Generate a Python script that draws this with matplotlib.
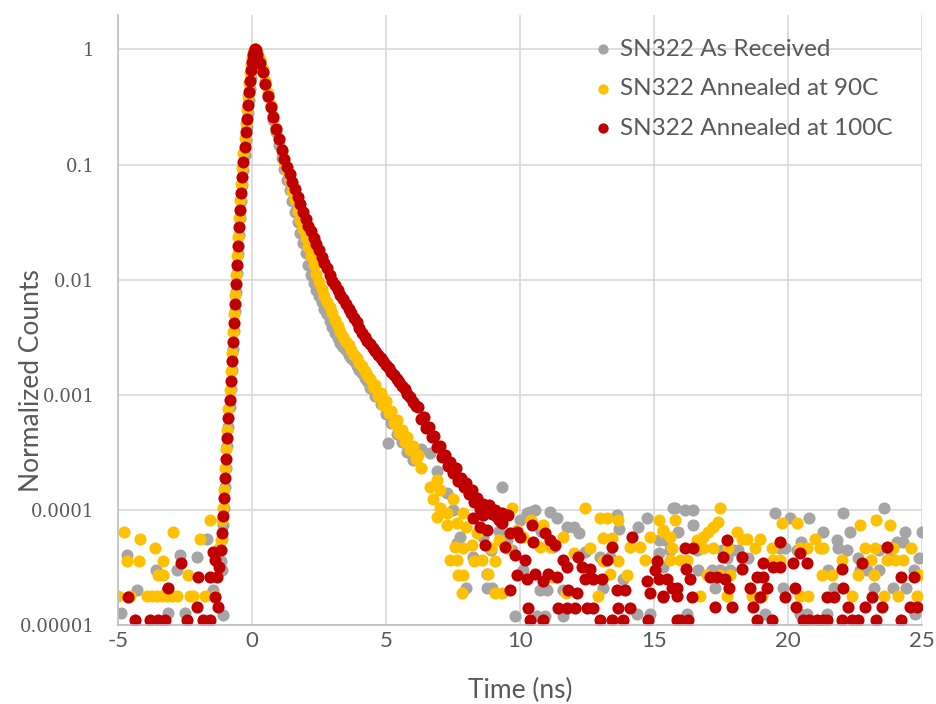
import matplotlib

matplotlib.use("Agg")
import matplotlib.pyplot as plt
from matplotlib.ticker import FixedLocator, NullLocator

# ---- data: normalized TCSPC decays, time in ns ----
labels = ["SN322 As Received", "SN322 Annealed at 90C", "SN322 Annealed at 100C"]
colors = ["#A5A5A5", "#FFC000", "#C00000"]

# background counts before the pulse
gray_pre_t = [-4.9, -4.66, -4.3, -3.6, -3.17, -3.13, -2.8, -2.69, -2.5, -2.05, -1.68, -1.45, -1.12, -1.08]
gray_pre_v = [1.27e-5, 4.1e-5, 2.0e-5, 3.0e-5, 2.0e-5, 1.27e-5, 3.0e-5, 4.1e-5, 1.27e-5, 3.9e-5, 5.6e-5,
              2.0e-5, 3.0e-5, 1.22e-5]
yel_pre_t = [-5.0, -4.78, -4.66, -4.55, -4.22, -4.18, -3.92, -3.73, -3.62, -3.54, -3.5, -3.36, -3.32, -3.32,
             -3.17, -2.99, -2.95, -2.8, -2.39, -2.31, -2.2, -1.94, -1.75, -1.57, -1.38, -1.25]
yel_pre_v = [1.8e-5, 6.4e-5, 3.6e-5, 1.8e-5, 3.6e-5, 5.6e-5, 1.8e-5, 1.8e-5, 4.7e-5, 1.8e-5, 2.7e-5, 1.8e-5,
             3.6e-5, 2.7e-5, 1.8e-5, 1.8e-5, 6.4e-5, 1.8e-5, 2.7e-5, 1.8e-5, 1.8e-5, 5.6e-5, 1.8e-5, 8.2e-5,
             1.8e-5, 4.7e-5]
red_pre_t = [-4.63, -4.37, -3.81, -3.51, -3.25, -3.13, -2.65, -2.43, -2.05, -2.01, -1.83, -1.57, -1.57,
             -1.46, -1.38, -1.38, -1.31, -1.27, -1.22]
red_pre_v = [1.75e-5, 1.1e-5, 1.1e-5, 1.1e-5, 1.1e-5, 2.1e-5, 3.5e-5, 1.1e-5, 1.45e-5, 2.6e-5, 1.1e-5, 1.1e-5,
             2.6e-5, 4.3e-5, 3.7e-5, 1.75e-5, 2.6e-5, 1.45e-5, 3.2e-5]

# rising edge, 0.04 ns bins
t_rise = [-1.16, -1.12, -1.08, -1.04, -1.0, -0.96, -0.92, -0.88, -0.84, -0.8, -0.76, -0.72, -0.68, -0.64,
          -0.6, -0.56, -0.52, -0.48, -0.44, -0.4, -0.36, -0.32, -0.28, -0.24, -0.2, -0.16, -0.12, -0.08,
          -0.04, 0.0, 0.04, 0.08, 0.12, 0.16]
gray_rise = [3.6e-5, 5.6e-5, 7.4e-5, 1.05e-4, 1.6e-4, 2.3e-4, 3.6e-4, 5.3e-4, 7.8e-4, 1.12e-3, 1.66e-3,
             2.5e-3, 3.6e-3, 5.3e-3, 7.8e-3, 0.0115, 0.0166, 0.0245, 0.0346, 0.0478, 0.066, 0.0893, 0.12,
             0.162, 0.213, 0.281, 0.363, 0.456, 0.562, 0.66, 0.76, 0.86, 1.0, 0.97]
yel_rise = [5.5e-5, 8.2e-5, 1.04e-4, 1.5e-4, 2.3e-4, 3.4e-4, 5.0e-4, 7.6e-4, 1.1e-3, 1.6e-3, 2.3e-3, 3.5e-3,
            5.0e-3, 7.4e-3, 0.0109, 0.0162, 0.0234, 0.0345, 0.0488, 0.0674, 0.0931, 0.126, 0.169, 0.229,
            0.301, 0.397, 0.512, 0.62, 0.74, 0.85, 0.94, 0.98, 1.0, 0.985]
red_rise = [4.5e-5, 6.3e-5, 8.9e-5, 1.26e-4, 1.9e-4, 2.8e-4, 4.2e-4, 6.3e-4, 9.1e-4, 1.32e-3, 1.95e-3, 2.9e-3,
            4.2e-3, 6.2e-3, 9.1e-3, 0.0135, 0.0195, 0.0288, 0.0407, 0.0562, 0.0776, 0.105, 0.141, 0.191,
            0.251, 0.331, 0.427, 0.537, 0.661, 0.776, 0.891, 0.955, 1.0, 0.99]

# decay, 0.1 ns spacing (shorter series use the first part of the time list)
t_decay = [0.2, 0.3, 0.4, 0.5, 0.6, 0.7, 0.8, 0.9, 1.0, 1.1, 1.2, 1.3, 1.4, 1.5, 1.6, 1.7, 1.8, 1.9, 2.0,
           2.1, 2.2, 2.3, 2.4, 2.5, 2.6, 2.7, 2.8, 2.9, 3.0, 3.1, 3.2, 3.3, 3.4, 3.5, 3.6, 3.7, 3.8, 3.9,
           4.0, 4.1, 4.2, 4.3, 4.4, 4.5, 4.6, 4.7, 4.8, 4.9, 5.0, 5.1, 5.2, 5.3, 5.4, 5.5, 5.6, 5.7, 5.8,
           5.9, 6.0, 6.1, 6.2, 6.3, 6.4, 6.5, 6.6, 6.7, 6.8, 6.9, 7.0, 7.1, 7.2, 7.3, 7.4, 7.5, 7.6, 7.7,
           7.8, 7.9, 8.0, 8.1, 8.2, 8.3, 8.4, 8.5, 8.6, 8.7]
gray_decay = [0.933, 0.794, 0.631, 0.501, 0.389, 0.316, 0.245, 0.191, 0.148, 0.115,
              0.0912, 0.0741, 0.0603, 0.0479, 0.0389, 0.0316, 0.0257, 0.0209, 0.017, 0.0135,
              0.011, 0.00933, 0.00813, 0.00724, 0.00646, 0.00562, 0.00501, 0.00437, 0.00389, 0.00347,
              0.00309, 0.00282, 0.00263, 0.00245, 0.00224, 0.00209, 0.00195, 0.00178, 0.00166, 0.00155,
              0.00141, 0.00132, 0.00115, 0.0012, 0.00097, 0.00101, 0.00083, 0.00087, 0.00068, 0.00072,
              0.00057, 0.0006, 0.00046, 0.0005, 0.00039, 0.00042, 0.00032, 0.00035, 0.00027]
yel_decay = [0.955, 0.832, 0.676, 0.537, 0.417, 0.331, 0.263, 0.209, 0.166, 0.132,
             0.105, 0.0871, 0.0724, 0.0589, 0.049, 0.0398, 0.0331, 0.0275, 0.0229, 0.0191,
             0.0162, 0.0135, 0.0112, 0.00955, 0.00832, 0.00724, 0.00646, 0.00575, 0.00513, 0.00447,
             0.00398, 0.00355, 0.00316, 0.00288, 0.00269, 0.00245, 0.00224, 0.00209, 0.00191, 0.00178,
             0.00162, 0.00148, 0.00138, 0.00118, 0.00122, 0.00098, 0.00104, 0.00082, 0.00088, 0.00069,
             0.00072, 0.00057, 0.0006, 0.00047, 0.0005, 0.00039, 0.00043, 0.00033, 0.00036, 0.00028,
             0.0003, 0.00023]
red_decay = [0.891, 0.759, 0.631, 0.501, 0.398, 0.316, 0.257, 0.204, 0.166, 0.135,
             0.112, 0.0955, 0.0832, 0.0708, 0.0617, 0.0525, 0.0457, 0.0389, 0.0339, 0.0295,
             0.0263, 0.0229, 0.0204, 0.0182, 0.0158, 0.0141, 0.0126, 0.011, 0.00977, 0.00891,
             0.00813, 0.00741, 0.00676, 0.00617, 0.00562, 0.00513, 0.00468, 0.00427, 0.0038, 0.00347,
             0.00316, 0.00295, 0.00275, 0.00257, 0.0024, 0.00224, 0.00209, 0.00195, 0.00182, 0.0017,
             0.00158, 0.00148, 0.00138, 0.00129, 0.0012, 0.00112, 0.00102, 0.000955, 0.000871, 0.000794,
             0.00078, 0.00062, 0.00064, 0.00052, 0.00053, 0.00043, 0.00044, 0.00035, 0.00036, 0.00029,
             0.0003, 0.00024, 0.00026, 0.00021, 0.00023, 0.00018, 0.00019, 0.00016, 0.000172, 0.000138,
             0.000148, 0.000118, 0.000126, 0.000102, 0.000112, 0.000098]

# tail and background after the pulse
gray_tail_t = [5.07, 6.3, 6.64, 6.9, 7.28, 7.5, 7.65, 7.76, 8.0, 8.25, 8.6, 8.77, 8.77, 8.9, 8.96, 9.2, 9.33,
               9.5, 9.7, 9.81, 10.0, 10.1, 10.26, 10.37, 10.56, 10.63, 10.75, 10.8, 10.93, 11.0, 11.1,
               11.23, 11.38, 11.6, 11.6, 11.75, 12.0, 12.2, 12.43, 13.0, 13.1, 13.36, 13.6, 13.7, 13.84,
               14.37, 14.4, 14.74, 14.85, 15.2, 15.2, 15.35, 15.4, 15.6, 15.6, 15.7, 15.78, 15.9, 16.16,
               16.23, 16.46, 16.46, 16.6, 16.64, 17.16, 17.28, 17.46, 17.54, 17.72, 17.84, 17.95, 18.13,
               18.3, 18.5, 19.14, 19.5, 19.7, 19.8, 19.9, 20.07, 20.34, 20.45, 20.5, 20.7, 20.8, 21.3,
               21.46, 21.5, 21.7, 21.83, 21.87, 22.05, 22.2, 22.3, 22.6, 22.7, 22.95, 23.2, 23.4, 23.4,
               23.6, 23.8, 23.9, 24.07, 24.3, 24.36, 24.4, 24.7, 24.74, 24.9, 25.0]
gray_tail_v = [3.8e-4, 3.4e-4, 3.1e-4, 2.2e-4, 1.4e-4, 1.0e-4, 5.2e-5, 5.8e-5, 2.1e-5, 3.9e-5, 5.8e-5,
               2.8e-5, 2.1e-5, 4.5e-5, 2.1e-5, 6.6e-5, 1.6e-4, 5.5e-5, 4.5e-5, 1.2e-5, 8.2e-5, 3.0e-5,
               9.5e-5, 9.6e-5, 1.0e-4, 1.2e-5, 2.0e-5, 6.6e-5, 1.2e-5, 2.0e-5, 9.6e-5, 4.8e-5, 8.5e-5,
               2.0e-5, 1.2e-5, 7.1e-5, 7.1e-5, 6.3e-5, 4.3e-5, 3.9e-5, 2.1e-5, 3.9e-5, 9.0e-5, 6.9e-5,
               2.5e-5, 1.25e-5, 7.1e-5, 8.5e-5, 1.25e-5, 4.2e-5, 5.5e-5, 3.2e-5, 5.5e-5, 4.5e-5, 4.5e-5,
               1.05e-4, 1.05e-4, 6.4e-5, 1.0e-4, 1.25e-5, 1.0e-4, 7.4e-5, 4.5e-5, 3.0e-5, 3.0e-5, 2.1e-5,
               3.0e-5, 4.5e-5, 3.8e-5, 3.0e-5, 4.5e-5, 4.5e-5, 3.8e-5, 3.8e-5, 1.25e-5, 9.5e-5, 4.7e-5,
               2.1e-5, 4.7e-5, 8.5e-5, 4.5e-5, 1.25e-5, 5.3e-5, 1.25e-5, 8.5e-5, 6.4e-5, 1.25e-5, 3.0e-5,
               2.1e-5, 5.5e-5, 4.7e-5, 9.5e-5, 4.5e-5, 6.4e-5, 3.8e-5, 3.0e-5, 3.0e-5, 2.1e-5, 3.0e-5,
               4.5e-5, 1.05e-4, 4.5e-5, 2.1e-5, 5.3e-5, 5.3e-5, 6.4e-5, 2.1e-5, 3.0e-5, 1.25e-5, 3.8e-5,
               6.4e-5]
yel_tail_t = [6.64, 6.75, 6.9, 6.9, 7.0, 7.0, 7.28, 7.28, 7.39, 7.5, 7.57, 7.65, 7.65, 7.7, 7.84, 7.87,
              7.87, 7.87, 8.0, 8.2, 8.3, 8.4, 8.58, 8.8, 8.9, 9.07, 9.07, 9.2, 9.33, 9.5, 9.7, 9.89, 10.1,
              10.4, 10.75, 10.86, 11.1, 11.23, 11.6, 11.7, 12.0, 12.43, 12.6, 12.9, 13.0, 13.1, 13.1,
              13.25, 13.36, 13.43, 13.66, 13.66, 14.0, 14.1, 14.48, 14.66, 14.85, 15.2, 15.35, 15.35,
              15.6, 15.6, 15.67, 15.8, 15.97, 16.23, 16.6, 16.7, 16.83, 16.83, 16.98, 17.0, 17.2, 17.2,
              17.39, 17.46, 17.46, 17.72, 17.76, 17.84, 18.1, 18.3, 18.47, 18.66, 18.77, 18.96, 19.03,
              19.4, 19.44, 19.7, 19.78, 20.34, 20.45, 20.45, 20.7, 20.75, 21.0, 21.2, 21.27, 21.3, 21.64,
              22.0, 22.4, 22.6, 22.7, 22.87, 23.1, 23.2, 23.25, 23.3, 23.6, 23.7, 23.8, 23.9, 24.0, 24.1,
              24.3, 24.6, 24.8, 24.9]
yel_tail_v = [1.6e-4, 1.24e-4, 1.82e-4, 8.7e-5, 1.5e-4, 1.05e-4, 9.5e-5, 7.4e-5, 3.7e-5, 1.24e-4, 4.8e-5,
              7.7e-5, 3.7e-5, 2.7e-5, 1.9e-5, 9.5e-5, 4.7e-5, 2.7e-5, 7.1e-5, 5.0e-5, 3.6e-5, 6.3e-5,
              3.7e-5, 2.8e-5, 4.7e-5, 3.6e-5, 1.9e-5, 5.5e-5, 1.9e-5, 4.7e-5, 1.05e-4, 6.7e-5, 5.8e-5,
              8.2e-5, 4.8e-5, 7.4e-5, 4.8e-5, 2.6e-5, 5.8e-5, 1.9e-5, 4.2e-5, 1.04e-4, 4.7e-5, 1.8e-5,
              8.5e-5, 5.7e-5, 3.6e-5, 8.5e-5, 2.8e-5, 5.7e-5, 8.2e-5, 3.6e-5, 2.7e-5, 4.8e-5, 4.8e-5,
              3.7e-5, 5.8e-5, 8.2e-5, 6.4e-5, 6.7e-5, 5.8e-5, 3.7e-5, 4.7e-5, 8.2e-5, 3.7e-5, 3.7e-5,
              5.5e-5, 1.8e-5, 5.8e-5, 4.7e-5, 2.7e-5, 6.4e-5, 7.1e-5, 4.7e-5, 7.9e-5, 1.04e-4, 2.7e-5,
              1.8e-5, 4.7e-5, 2.7e-5, 6.4e-5, 5.6e-5, 5.6e-5, 1.8e-5, 4.7e-5, 5.6e-5, 1.8e-5, 4.7e-5,
              3.7e-5, 3.7e-5, 7.7e-5, 7.7e-5, 4.7e-5, 1.8e-5, 4.7e-5, 1.8e-5, 5.6e-5, 4.7e-5, 2.7e-5,
              4.7e-5, 2.7e-5, 3.7e-5, 1.8e-5, 2.7e-5, 7.4e-5, 4.7e-5, 3.7e-5, 2.7e-5, 4.7e-5, 8.2e-5,
              1.8e-5, 3.7e-5, 7.4e-5, 4.7e-5, 3.7e-5, 1.8e-5, 3.7e-5, 4.7e-5, 1.8e-5, 2.7e-5]
red_tail_t = [8.25, 8.5, 8.6, 8.69, 8.77, 8.85, 8.95, 9.05, 9.14, 9.2, 9.33, 9.33, 9.44, 9.55, 9.63, 9.63,
              9.81, 9.89, 9.89, 10.0, 10.19, 10.26, 10.3, 10.37, 10.45, 10.49, 10.56, 10.86, 10.86,
              10.93, 11.04, 11.1, 11.3, 11.38, 11.42, 11.6, 11.75, 11.75, 11.8, 12.05, 12.13, 12.16,
              12.3, 12.43, 12.5, 12.6, 12.72, 12.72, 12.99, 13.06, 13.25, 13.43, 13.43, 13.62, 13.66,
              13.84, 13.92, 14.1, 14.18, 14.74, 14.78, 14.85, 15.04, 15.1, 15.2, 15.34, 15.35, 15.5,
              15.67, 15.85, 15.86, 15.86, 15.97, 16.16, 16.2, 16.27, 16.34, 16.42, 16.46, 17.1, 17.28,
              17.35, 17.57, 17.65, 17.72, 17.8, 17.9, 18.28, 18.28, 18.58, 18.7, 18.84, 18.84, 18.96,
              19.07, 19.07, 19.2, 19.4, 19.44, 19.7, 19.7, 19.9, 20.2, 20.26, 20.3, 20.45, 20.56, 20.7,
              20.8, 21.08, 21.3, 21.46, 21.46, 21.7, 22.0, 22.0, 22.05, 22.24, 22.4, 22.6, 22.76, 22.87,
              23.13, 23.3, 23.5, 23.7, 24.2, 24.2, 24.55, 24.7, 24.8]
red_tail_v = [8.5e-5, 7.1e-5, 9.0e-5, 5.0e-5, 6.7e-5, 1.1e-4, 9.2e-5, 1.0e-4, 8.7e-5, 8.2e-5, 9.5e-5,
              7.7e-5, 4.8e-5, 9.0e-5, 6.3e-5, 2.0e-5, 4.1e-5, 6.4e-5, 2.7e-5, 5.8e-5, 3.7e-5, 2.5e-5,
              1.4e-5, 1.1e-5, 7.4e-5, 5.3e-5, 2.8e-5, 2.4e-5, 1.1e-5, 6.3e-5, 2.8e-5, 5.5e-5, 5.0e-5,
              2.6e-5, 1.4e-5, 3.7e-5, 3.2e-5, 1.4e-5, 2.0e-5, 1.4e-5, 1.9e-5, 3.9e-5, 3.2e-5, 2.5e-5,
              1.4e-5, 3.1e-5, 1.4e-5, 2.5e-5, 1.1e-5, 2.5e-5, 3.7e-5, 4.8e-5, 1.1e-5, 2.0e-5, 1.4e-5,
              1.1e-5, 2.0e-5, 1.4e-5, 5.8e-5, 2.4e-5, 1.1e-5, 1.9e-5, 3.0e-5, 3.6e-5, 2.5e-5, 1.75e-5,
              1.8e-5, 2.5e-5, 2.1e-5, 1.8e-5, 2.1e-5, 1.1e-5, 1.1e-5, 4.7e-5, 3.1e-5, 1.1e-5, 2.5e-5,
              1.75e-5, 4.7e-5, 2.6e-5, 1.45e-5, 2.6e-5, 3.9e-5, 2.5e-5, 5.5e-5, 2.1e-5, 1.45e-5, 3.9e-5,
              3.1e-5, 2.1e-5, 1.45e-5, 2.6e-5, 1.1e-5, 1.75e-5, 2.6e-5, 3.5e-5, 2.1e-5, 1.1e-5, 3.2e-5,
              3.2e-5, 5.3e-5, 1.75e-5, 3.5e-5, 2.1e-5, 1.45e-5, 4.2e-5, 1.1e-5, 3.5e-5, 1.1e-5, 1.1e-5,
              1.1e-5, 1.1e-5, 1.75e-5, 1.75e-5, 3.1e-5, 1.1e-5, 2.1e-5, 1.45e-5, 1.1e-5, 1.1e-5, 3.5e-5,
              1.45e-5, 1.75e-5, 1.1e-5, 1.45e-5, 4.8e-5, 1.1e-5, 2.6e-5, 1.45e-5, 2.6e-5, 1.45e-5]

series = [
    (gray_pre_t + t_rise + t_decay[:len(gray_decay)] + gray_tail_t,
     gray_pre_v + gray_rise + gray_decay + gray_tail_v),
    (yel_pre_t + t_rise + t_decay[:len(yel_decay)] + yel_tail_t,
     yel_pre_v + yel_rise + yel_decay + yel_tail_v),
    (red_pre_t + t_rise + t_decay[:len(red_decay)] + red_tail_t,
     red_pre_v + red_rise + red_decay + red_tail_v),
]

sans = ["Lato", "DejaVu Sans"]
text_col = "#595959"
grid_col = "#D9D9D9"

fig = plt.figure(figsize=(9.37, 7.04), dpi=100)
ax = fig.add_axes([0.126, 0.112, 0.858, 0.867])

for (t, v), lab, c in zip(series, labels, colors):
    ax.scatter(t, v, s=76, color=c, linewidths=0, label=lab)

ax.set_yscale("log")
ax.set_xlim(-5, 25)
ax.set_ylim(1e-5, 2.0)
ax.xaxis.set_major_locator(FixedLocator([-5, 0, 5, 10, 15, 20, 25]))
ax.yaxis.set_major_locator(FixedLocator([1e-5, 1e-4, 1e-3, 1e-2, 1e-1, 1]))
ax.yaxis.set_minor_locator(NullLocator())
ax.set_yticklabels(["0.00001", "0.0001", "0.001", "0.01", "0.1", "1"],
                   family="DejaVu Serif", fontsize=13, color=text_col)
ax.set_xticklabels(["-5", "0", "5", "10", "15", "20", "25"], family=sans, fontsize=16, color=text_col)
ax.tick_params(axis="both", length=0)
ax.tick_params(axis="y", pad=17)
ax.tick_params(axis="x", pad=4)

ax.grid(True, color=grid_col, linewidth=1.2)
ax.set_axisbelow(True)
for side in ["top", "right"]:
    ax.spines[side].set_visible(False)
for side in ["left", "bottom"]:
    ax.spines[side].set_color("#BFBFBF")
    ax.spines[side].set_linewidth(1.2)

ax.set_xlabel("Time (ns)", family=sans, fontsize=19, color=text_col)
ax.xaxis.set_label_coords(0.5, -0.086)
ax.xaxis.label.set_va("top")
ax.set_ylabel("Normalized Counts", family=sans, fontsize=19, color=text_col)
ax.yaxis.set_label_coords(-0.092, 0.40)

leg = ax.legend(loc="upper left", bbox_to_anchor=(0.58, 0.977), frameon=False, markerscale=0.85,
                handlelength=0.7, handletextpad=0.35, labelspacing=0.76, borderaxespad=0,
                prop={"family": sans, "size": 17.5})
for txt in leg.get_texts():
    txt.set_color(text_col)

fig.savefig("out.png", dpi=100)
